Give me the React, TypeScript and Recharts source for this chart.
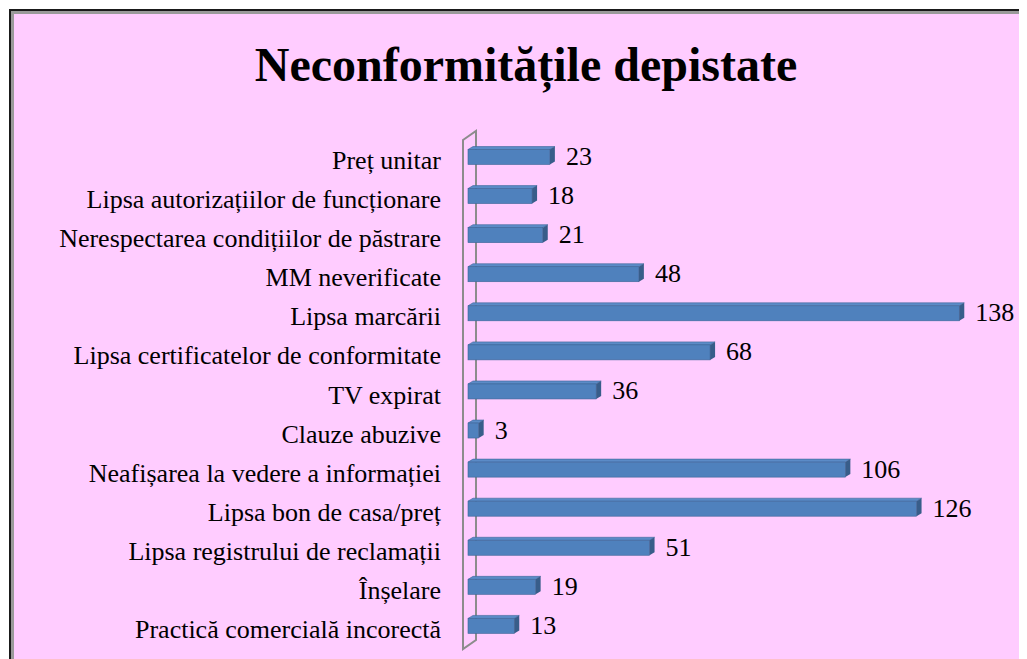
import React from "react";
import { Bar, BarChart, LabelList, XAxis, YAxis } from "recharts";

const categories = [
  "Preț unitar",
  "Lipsa autorizațiilor de funcționare",
  "Nerespectarea condițiilor de păstrare",
  "MM neverificate",
  "Lipsa marcării",
  "Lipsa certificatelor de conformitate",
  "TV expirat",
  "Clauze abuzive",
  "Neafișarea la vedere a informației",
  "Lipsa bon de casa/preț",
  "Lipsa registrului de reclamații",
  "Înșelare",
  "Practică comercială incorectă",
];

const counts = [23, 18, 21, 48, 138, 68, 36, 3, 106, 126, 51, 19, 13];

const data = categories.map((name, i) => ({ name, value: counts[i] }));

const W = 1019;
const H = 651;
const AXIS_W = 460;
const MARGIN = { top: 129.5, right: 25, bottom: 13.5, left: 0 };
const SERIF = "Liberation Serif";
const PINK = "#FFCCFF";

// 3D-looking bar: front face, top face and right side
function Bar3D(props: any) {
  const { x, y, width, height } = props;
  if (width == null || width <= 0) return null;
  const dx = 5;
  const dy = 3;
  return (
    <g>
      <polygon
        points={`${x},${y} ${x + dx},${y - dy} ${x + width + dx},${y - dy} ${x + width},${y}`}
        fill="#5B8BC7"
        stroke="#3E6698"
        strokeWidth={0.6}
      />
      <rect x={x} y={y} width={width} height={height} fill="#4F81BD" stroke="#3E6698" strokeWidth={0.6} />
      <polygon
        points={`${x + width},${y} ${x + width + dx},${y - dy} ${x + width + dx},${y + height - dy} ${x + width},${y + height}`}
        fill="#385D8A"
      />
    </g>
  );
}

function CategoryTick(props: any) {
  const { x, y, payload } = props;
  return (
    <text x={x - 19} y={y + 12} textAnchor="end" fontFamily={SERIF} fontSize={26} fill="#000">
      {payload.value}
    </text>
  );
}

function ValueLabel(props: any) {
  const { x, y, width, height, value } = props;
  return (
    <text x={x + width + 16} y={y + height / 2 + 8} fontFamily={SERIF} fontSize={26} fill="#000">
      {value}
    </text>
  );
}

export default function App() {
  const plotLeft = MARGIN.left + AXIS_W;
  const plotTop = MARGIN.top;
  const plotBottom = H - MARGIN.bottom;
  // back wall of the category axis
  const wl = plotLeft - 5;
  const wr = plotLeft + 8;
  return (
    <div style={{ position: "relative", width: W, height: H, overflow: "hidden", background: "#fff", fontFamily: SERIF }}>
      <div
        style={{
          position: "absolute",
          left: 1,
          top: 1,
          width: W + 20,
          height: H + 20,
          borderLeft: "2px solid #1a1a1a",
          borderTop: "2px solid #1a1a1a",
          background: PINK,
          boxShadow: "inset 3px 3px 0 #9a9a9a",
        }}
      />
      <div
        style={{
          position: "absolute",
          left: 0,
          top: 29,
          width: 1036,
          textAlign: "center",
          fontWeight: "bold",
          fontSize: 48,
          lineHeight: "normal",
          color: "#000",
        }}
      >
        Neconformitățile depistate
      </div>
      <svg width={W} height={H} style={{ position: "absolute", left: 0, top: 0 }}>
        <polygon
          points={`${wl},${plotTop + 2.5} ${wr},${plotTop - 6.5} ${wr},${plotBottom - 5.5} ${wl},${plotBottom + 3.5}`}
          fill="none"
          stroke="#8c8c8c"
          strokeWidth={2}
        />
      </svg>
      <div style={{ position: "absolute", left: 0, top: 0 }}>
        <BarChart width={W} height={H} data={data} layout="vertical" margin={MARGIN} barCategoryGap={0}>
          <XAxis type="number" domain={[0, 150]} hide />
          <YAxis
            type="category"
            dataKey="name"
            width={AXIS_W}
            axisLine={false}
            tickLine={false}
            interval={0}
            tick={<CategoryTick />}
          />
          <Bar dataKey="value" barSize={15} shape={<Bar3D />} isAnimationActive={false}>
            <LabelList dataKey="value" content={<ValueLabel />} />
          </Bar>
        </BarChart>
      </div>
    </div>
  );
}
